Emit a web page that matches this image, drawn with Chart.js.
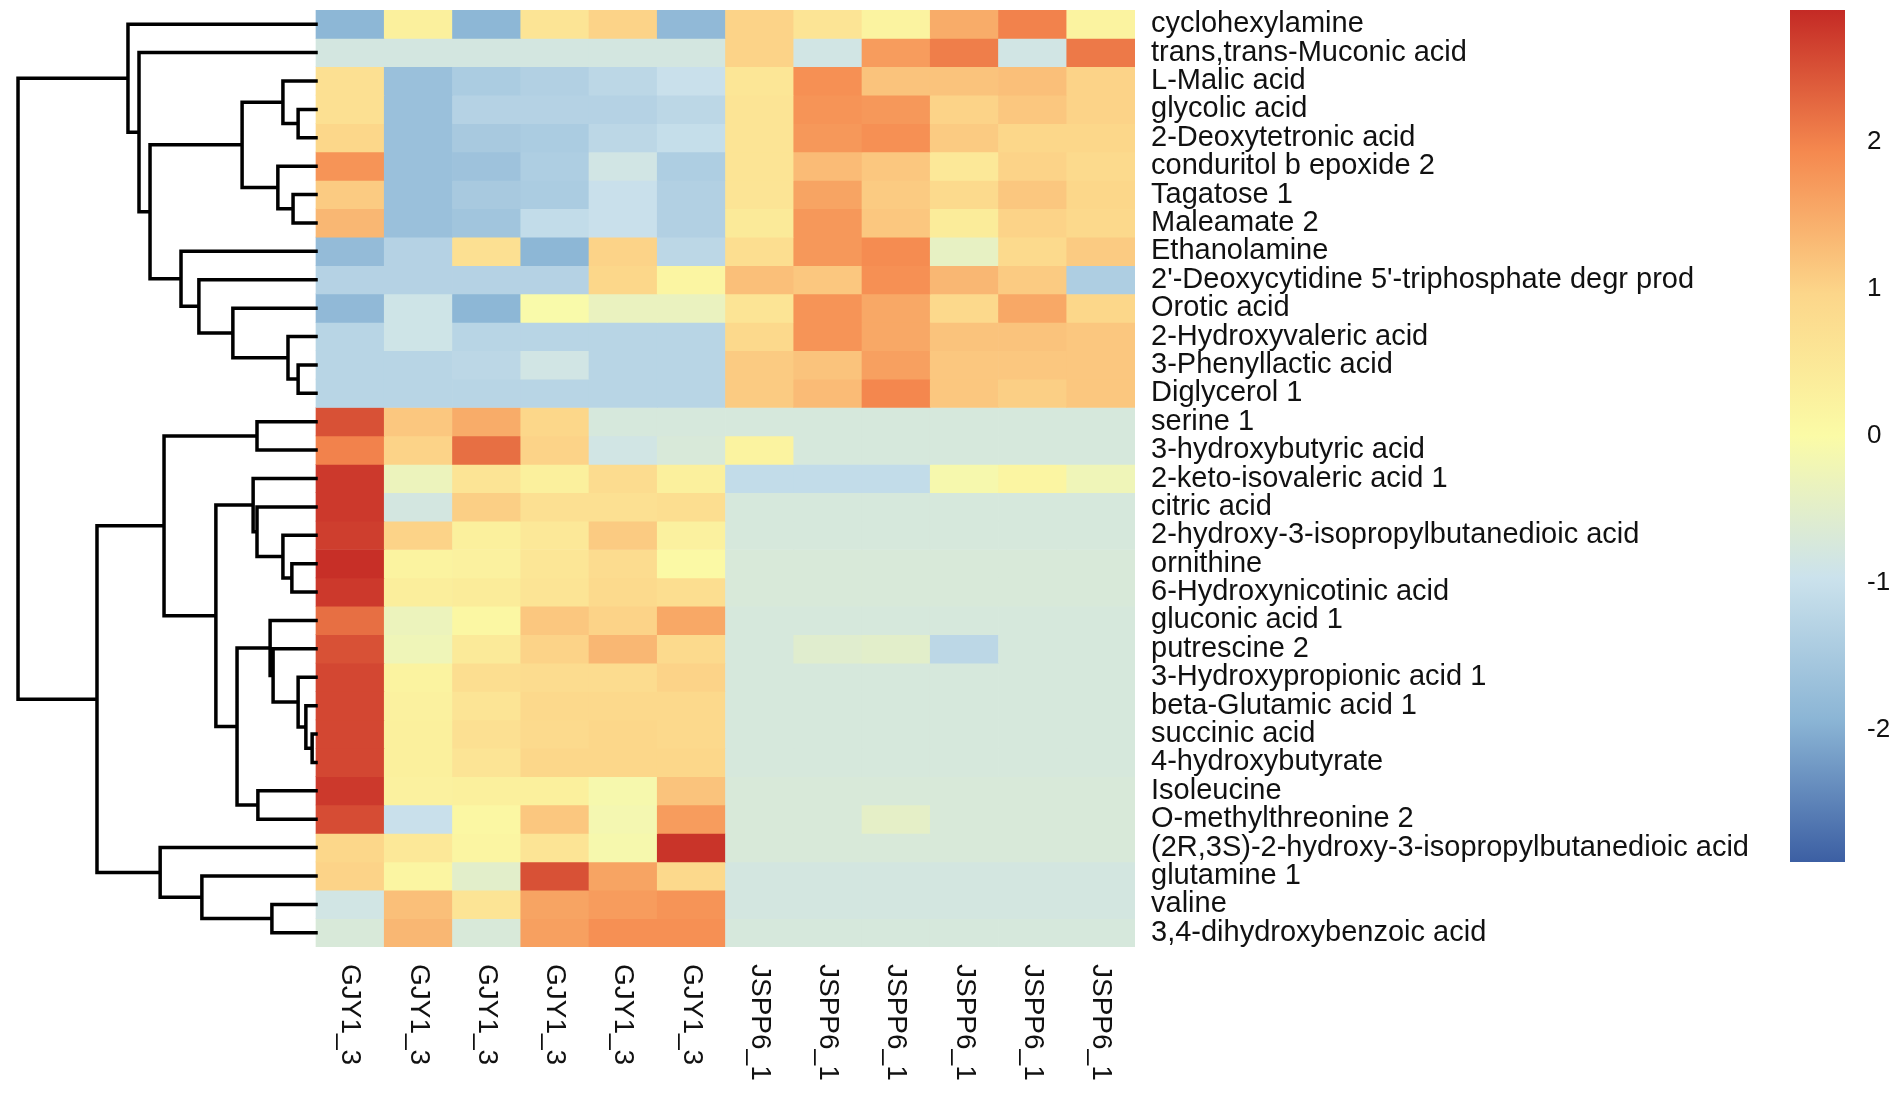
<!DOCTYPE html>
<html>
<head>
<meta charset="utf-8">
<script src="https://cdn.jsdelivr.net/npm/chart.js@4.4.1/dist/chart.umd.min.js"></script>
<style>
  html, body { margin: 0; padding: 0; background: #fff; }
  #heatBox { position: absolute; left: 0; top: 0; width: 1760px; height: 1094px; }
  #keyBox { position: absolute; left: 1760px; top: 0; width: 142px; height: 1094px; }
</style>
</head>
<body>
<div id="heatBox"><canvas id="heat"></canvas></div>
<div id="keyBox"><canvas id="key"></canvas></div>
<script>
// linhas do heatmap (de cima para baixo)
const rowLabels = [
  'cyclohexylamine', 'trans,trans-Muconic acid', 'L-Malic acid', 'glycolic acid',
  '2-Deoxytetronic acid', 'conduritol b epoxide 2', 'Tagatose 1', 'Maleamate 2',
  'Ethanolamine', "2'-Deoxycytidine 5'-triphosphate degr prod", 'Orotic acid',
  '2-Hydroxyvaleric acid', '3-Phenyllactic acid', 'Diglycerol 1', 'serine 1',
  '3-hydroxybutyric acid', '2-keto-isovaleric acid 1', 'citric acid',
  '2-hydroxy-3-isopropylbutanedioic acid', 'ornithine', '6-Hydroxynicotinic acid',
  'gluconic acid 1', 'putrescine 2', '3-Hydroxypropionic acid 1', 'beta-Glutamic acid 1',
  'succinic acid', '4-hydroxybutyrate', 'Isoleucine', 'O-methylthreonine 2',
  '(2R,3S)-2-hydroxy-3-isopropylbutanedioic acid', 'glutamine 1', 'valine',
  '3,4-dihydroxybenzoic acid'
];

// colunas (amostras)
const colLabels = ['GJY1_3', 'GJY1_3', 'GJY1_3', 'GJY1_3', 'GJY1_3', 'GJY1_3',
                   'JSPP6_1', 'JSPP6_1', 'JSPP6_1', 'JSPP6_1', 'JSPP6_1', 'JSPP6_1'];

// valores (z-score), uma linha por metabolito
const zValues = [
  [-1.9, 0.3, -1.9, 0.6, 1.0, -1.85, 1.0, 0.6, 0.2, 1.5, 2.0, 0.2],
  [-0.8, -0.8, -0.8, -0.8, -0.8, -0.8, 1.0, -0.85, 1.7, 2.05, -0.85, 2.1],
  [0.7, -1.7, -1.45, -1.35, -1.2, -1.0, 0.55, 1.85, 1.2, 1.2, 1.25, 1.0],
  [0.7, -1.7, -1.3, -1.3, -1.3, -1.2, 0.6, 1.8, 1.75, 1.0, 1.15, 1.0],
  [0.95, -1.7, -1.5, -1.45, -1.2, -1.05, 0.6, 1.75, 1.85, 1.1, 0.95, 0.95],
  [1.8, -1.7, -1.65, -1.4, -0.85, -1.4, 0.6, 1.3, 1.15, 0.5, 1.0, 0.85],
  [1.1, -1.7, -1.5, -1.45, -1.0, -1.35, 0.6, 1.6, 1.1, 0.85, 1.15, 0.95],
  [1.35, -1.7, -1.6, -1.1, -1.0, -1.35, 0.45, 1.75, 1.15, 0.4, 1.0, 0.9],
  [-1.8, -1.3, 0.7, -1.9, 1.0, -1.2, 0.75, 1.75, 1.9, -0.4, 0.85, 1.1],
  [-1.3, -1.3, -1.3, -1.3, 0.95, 0.15, 1.25, 1.15, 1.85, 1.35, 1.1, -1.4],
  [-1.85, -0.9, -1.9, -0.05, -0.35, -0.35, 0.6, 1.8, 1.55, 0.9, 1.55, 0.95],
  [-1.25, -0.9, -1.25, -1.25, -1.25, -1.25, 0.9, 1.8, 1.55, 1.2, 1.2, 1.15],
  [-1.25, -1.25, -1.2, -0.85, -1.25, -1.25, 1.1, 1.2, 1.65, 1.15, 1.15, 1.15],
  [-1.25, -1.25, -1.25, -1.25, -1.25, -1.25, 1.1, 1.3, 1.95, 1.15, 1.05, 1.15],
  [2.5, 1.15, 1.5, 0.95, -0.75, -0.75, -0.75, -0.75, -0.75, -0.75, -0.75, -0.75],
  [2.0, 1.0, 2.2, 1.0, -0.85, -0.7, 0.2, -0.75, -0.75, -0.75, -0.75, -0.75],
  [2.75, -0.3, 0.6, 0.3, 0.8, 0.3, -1.1, -1.1, -1.1, -0.1, 0.15, -0.25],
  [2.75, -0.8, 1.05, 0.7, 0.7, 0.75, -0.75, -0.75, -0.75, -0.75, -0.75, -0.75],
  [2.7, 1.0, 0.3, 0.5, 1.1, 0.25, -0.75, -0.75, -0.75, -0.75, -0.75, -0.75],
  [2.85, 0.2, 0.25, 0.55, 0.8, 0.05, -0.7, -0.7, -0.7, -0.7, -0.7, -0.7],
  [2.75, 0.35, 0.4, 0.6, 0.85, 0.75, -0.7, -0.7, -0.7, -0.7, -0.7, -0.7],
  [2.2, -0.3, 0.1, 1.15, 1.0, 1.55, -0.75, -0.75, -0.75, -0.75, -0.75, -0.75],
  [2.5, -0.25, 0.45, 1.0, 1.35, 0.85, -0.75, -0.55, -0.5, -1.2, -0.75, -0.75],
  [2.6, 0.2, 0.75, 0.8, 0.8, 1.0, -0.75, -0.75, -0.75, -0.75, -0.75, -0.75],
  [2.6, 0.25, 0.6, 0.9, 0.9, 0.9, -0.75, -0.75, -0.75, -0.75, -0.75, -0.75],
  [2.6, 0.3, 0.7, 0.85, 0.95, 0.9, -0.75, -0.75, -0.75, -0.75, -0.75, -0.75],
  [2.6, 0.3, 0.6, 0.95, 0.95, 0.95, -0.75, -0.75, -0.75, -0.75, -0.75, -0.75],
  [2.75, 0.25, 0.3, 0.3, -0.1, 1.2, -0.7, -0.7, -0.7, -0.7, -0.7, -0.7],
  [2.55, -1.0, 0.1, 1.15, -0.15, 1.7, -0.7, -0.7, -0.45, -0.7, -0.7, -0.7],
  [0.95, 0.5, 0.15, 0.6, -0.1, 2.8, -0.7, -0.7, -0.7, -0.7, -0.7, -0.7],
  [1.0, 0.15, -0.5, 2.5, 1.6, 0.9, -0.8, -0.8, -0.8, -0.8, -0.8, -0.8],
  [-0.85, 1.25, 0.6, 1.6, 1.7, 1.8, -0.8, -0.8, -0.8, -0.8, -0.8, -0.8],
  [-0.7, 1.35, -0.7, 1.65, 1.85, 1.85, -0.75, -0.75, -0.75, -0.75, -0.75, -0.75]
];

// dendrograma no formato do hclust: negativo = linha (-(i+1)), positivo = fusão anterior
const dendroMerges = [
  [-4, -5, 0.60], [-3, 1, 1.11], [-7, -8, 0.77], [-6, 3, 1.28], [2, 4, 2.48],
  [-13, -14, 0.60], [-12, 6, 0.94], [-11, 7, 2.79], [-10, 8, 3.93], [-9, 9, 4.53],
  [5, 10, 5.57], [-2, 11, 5.94], [-1, 12, 6.31],
  [-15, -16, 1.98], [-20, -21, 0.81], [-19, 15, 1.11], [-18, 16, 1.98], [-17, 17, 2.11],
  [-26, -27, 0.13], [-25, 19, 0.34], [-24, 20, 0.60], [-23, 21, 1.44], [-22, 22, 1.54],
  [-28, -29, 1.95], [23, 24, 2.65], [18, 25, 3.36], [14, 26, 5.10],
  [-32, -33, 1.48], [-31, 28, 3.83], [-30, 29, 5.23], [27, 30, 7.35], [13, 31, 10.0]
];

// paleta (RdYlBu invertida) e escala da legenda
const colorStops = ['#3c5fa3', '#8bb5d5', '#cbe2ec', '#fbfba6', '#fcd68a', '#f5894f', '#c42a25'];
const colorRange = [-2.9, 2.9];
const legendTicks = [-2, -1, 0, 1, 2];

const dendroWidth = 4.366; // largura do dendrograma em colunas
const fontFamily = "'Liberation Sans', Arial, Helvetica, sans-serif";

function hexToRgb(h) {
  return [parseInt(h.slice(1, 3), 16), parseInt(h.slice(3, 5), 16), parseInt(h.slice(5, 7), 16)];
}

function colorFor(v) {
  let t = (v - colorRange[0]) / (colorRange[1] - colorRange[0]);
  t = Math.max(0, Math.min(1, t));
  const pos = t * (colorStops.length - 1);
  const i = Math.min(Math.floor(pos), colorStops.length - 2);
  const f = pos - i;
  const a = hexToRgb(colorStops[i]);
  const b = hexToRgb(colorStops[i + 1]);
  const c = a.map((x, k) => Math.round(x + (b[k] - x) * f));
  return 'rgb(' + c.join(',') + ')';
}

// células: uma série de barras flutuantes por linha
const heatDatasets = zValues.map((row, i) => ({
  type: 'bar',
  data: row.map((v, c) => ({ x: c + 0.5, y: [i - 0.5, i + 0.5] })),
  backgroundColor: row.map(colorFor),
  borderWidth: 0,
  barPercentage: 1.0,
  categoryPercentage: 1.0,
  grouped: false
}));

// segmentos do dendrograma
const rootHeight = Math.max(...dendroMerges.map(m => m[2]));
const nodes = [];
const dendroPoints = [];
function nodeInfo(ref) {
  if (ref < 0) return { y: -ref - 1, h: 0 };
  return nodes[ref - 1];
}
function xOf(h) { return -h / rootHeight * dendroWidth; }
dendroMerges.forEach(m => {
  const a = nodeInfo(m[0]);
  const b = nodeInfo(m[1]);
  const h = m[2];
  dendroPoints.push(
    { x: xOf(a.h), y: a.y }, { x: xOf(h), y: a.y },
    { x: xOf(h), y: b.y }, { x: xOf(b.h), y: b.y },
    { x: 0, y: null }
  );
  nodes.push({ y: (a.y + b.y) / 2, h: h });
});

// rótulos das colunas, girados 90 graus
const colLabelPlugin = {
  id: 'colLabels',
  afterDraw(chart) {
    const ctx = chart.ctx;
    const xs = chart.scales.x;
    ctx.save();
    ctx.fillStyle = '#111';
    ctx.font = '28px ' + fontFamily;
    ctx.textAlign = 'left';
    ctx.textBaseline = 'middle';
    colLabels.forEach((lab, c) => {
      ctx.save();
      ctx.translate(xs.getPixelForValue(c + 0.5), chart.chartArea.bottom + 17);
      ctx.rotate(Math.PI / 2);
      ctx.fillText(lab, 0, 0);
      ctx.restore();
    });
    ctx.restore();
  }
};

// sem margem extra para o primeiro/último rótulo
function fixAxis(width) {
  return s => {
    s.width = width;
    s.paddingTop = 0;
    s.paddingBottom = 0;
  };
}

new Chart(document.getElementById('heat'), {
  type: 'bar',
  data: {
    datasets: heatDatasets.concat([{
      type: 'line',
      data: dendroPoints,
      borderColor: '#000',
      borderWidth: 3.5,
      pointRadius: 0,
      tension: 0,
      spanGaps: false,
      borderCapStyle: 'square',
      borderJoinStyle: 'miter',
      order: -1
    }])
  },
  options: {
    responsive: true,
    maintainAspectRatio: false,
    animation: false,
    layout: { padding: { left: 8, top: 10, right: 0, bottom: 147 } },
    plugins: { legend: { display: false }, tooltip: { enabled: false } },
    scales: {
      x: {
        type: 'linear',
        display: false,
        offset: false,
        min: 12 - (1135 - 8) / 68.25,
        max: 12,
        afterBuildTicks: s => { s.ticks = colLabels.map((_, c) => ({ value: c + 0.5 })); }
      },
      y: {
        type: 'linear',
        position: 'right',
        reverse: true,
        min: -0.5,
        max: rowLabels.length - 0.5,
        grid: { display: false, drawTicks: false },
        border: { display: false },
        afterBuildTicks: s => { s.ticks = rowLabels.map((_, i) => ({ value: i })); },
        afterFit: fixAxis(625),
        ticks: {
          autoSkip: false,
          padding: 16,
          color: '#111',
          font: { family: fontFamily, size: 29 },
          callback: v => rowLabels[v]
        }
      }
    }
  },
  plugins: [colLabelPlugin]
});

// legenda de cores
new Chart(document.getElementById('key'), {
  type: 'bar',
  data: {
    labels: ['key'],
    datasets: [{
      data: [colorRange],
      borderWidth: 0,
      barPercentage: 1.0,
      categoryPercentage: 1.0,
      backgroundColor: (ctx) => {
        const chart = ctx.chart;
        if (!chart.chartArea) return colorStops[3];
        const ys = chart.scales.y;
        const g = chart.ctx.createLinearGradient(0, ys.getPixelForValue(colorRange[0]), 0, ys.getPixelForValue(colorRange[1]));
        colorStops.forEach((c, i) => g.addColorStop(i / (colorStops.length - 1), c));
        return g;
      }
    }]
  },
  options: {
    responsive: true,
    maintainAspectRatio: false,
    animation: false,
    layout: { padding: { left: 30, top: 10, right: 0, bottom: 232 } },
    plugins: { legend: { display: false }, tooltip: { enabled: false } },
    scales: {
      x: { display: false },
      y: {
        type: 'linear',
        position: 'right',
        min: colorRange[0],
        max: colorRange[1],
        grid: { display: false, drawTicks: false },
        border: { display: false },
        afterBuildTicks: s => { s.ticks = legendTicks.map(v => ({ value: v })); },
        afterFit: fixAxis(57),
        ticks: {
          padding: 22,
          color: '#111',
          font: { family: fontFamily, size: 26 },
          callback: v => String(v)
        }
      }
    }
  }
});
</script>
</body>
</html>
